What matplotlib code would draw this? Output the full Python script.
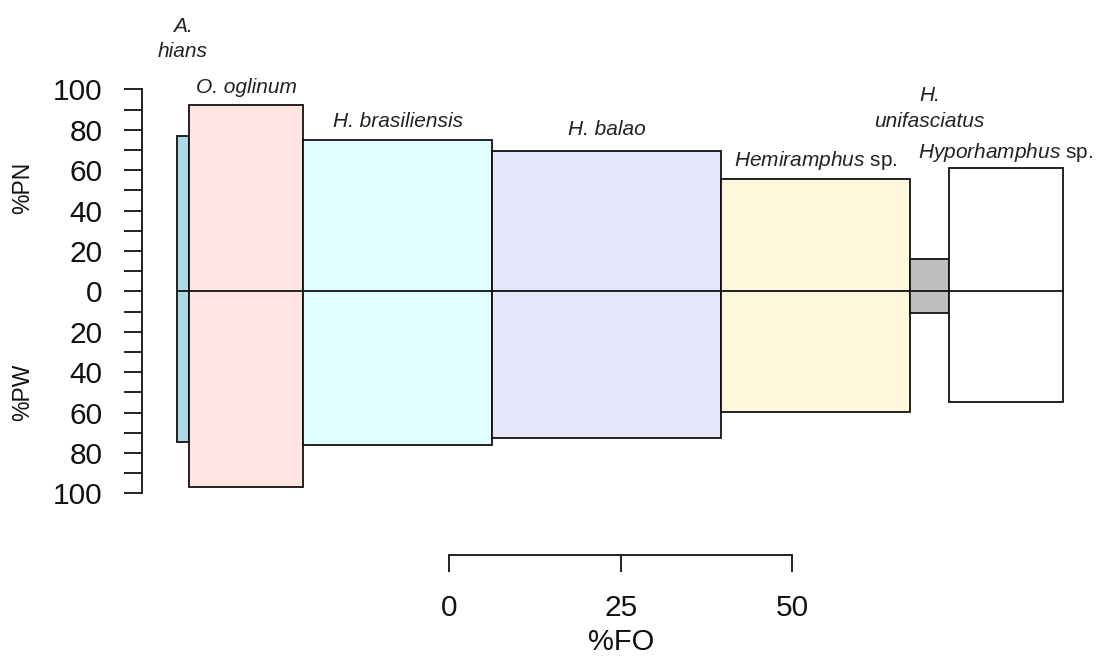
import numpy as np
import matplotlib
matplotlib.use("Agg")
import matplotlib.pyplot as plt

plt.rcParams["font.family"] = ["Liberation Sans", "DejaVu Sans"]
plt.rcParams["mathtext.fontset"] = "custom"
plt.rcParams["mathtext.rm"] = "Liberation Sans"
plt.rcParams["mathtext.it"] = "Liberation Sans:italic"

# Diet composition of the prey items (costello-style bars)
species = ["A. hians", "O. oglinum", "H. brasiliensis", "H. balao",
           "Hemiramphus sp.", "H. unifasciatus", "Hyporhamphus sp."]
fo = [1.84, 16.6, 27.6, 33.4, 27.6, 5.66, 16.6]      # %FO (bar width)
pn = [77.1, 92.4, 75.1, 69.5, 55.6, 16.2, 61.0]      # %PN (upwards)
pw = [74.6, 96.7, 76.1, 72.8, 59.9, 10.7, 55.0]      # %PW (downwards)
colors = ["#ADD8E6", "#FFE4E1", "#E0FFFF", "#E6E6FA", "#FFF8DC", "#BEBEBE", "#FFFFFF"]

# label text per species, one entry per line, and the baselines of those lines
label_lines = [["A.", "hians"], ["O. oglinum"], ["H. brasiliensis"], ["H. balao"],
               [r"$\mathit{Hemiramphus}$ sp."], ["H.", "unifasciatus"],
               [r"$\mathit{Hyporhamphus}$ sp."]]
label_base = [[128.4, 116.0], [98.2], [81.5], [77.4], [62.0], [94.4, 81.5], [65.8]]

y_ticks = [-100, -80, -60, -40, -20, 0, 20, 40, 60, 80, 100]
fo_ticks = [0, 25, 50]
fo_origin = 39.8  # where the %FO scale bar starts along the bar sequence

W, H = 1096, 657
fig = plt.figure(figsize=(W / 100, H / 100), dpi=100)

ax_left = 141.7 / W
ax_w = (1090 - 141.7) / W
ax = fig.add_axes([ax_left, (H - 493.3) / H, ax_w, (493.3 - 89.3) / H])
ax.set_xlim(-5.11, 133.27)
ax.set_ylim(-100, 100)

fo_arr = np.array(fo)
lefts = np.concatenate([[0], np.cumsum(fo_arr)[:-1]])
pn_arr = np.array(pn)
pw_arr = np.array(pw)

ax.bar(lefts, pn_arr + pw_arr, width=fo_arr, bottom=-pw_arr, align="edge",
       color=colors, edgecolor="#111111", linewidth=1.3, zorder=2)
ax.plot([lefts[0], lefts[-1] + fo_arr[-1]], [0, 0], color="#111111", lw=1.3, zorder=3)

for i in range(len(species)):
    cx = lefts[i] + fo_arr[i] / 2
    for line, yb in zip(label_lines[i], label_base[i]):
        style = "normal" if "$" in line else "italic"
        ax.text(cx, yb, line, ha="center", va="baseline", fontsize=15,
                fontstyle=style, color="#222222", clip_on=False)

for s in ["top", "right", "bottom"]:
    ax.spines[s].set_visible(False)
ax.spines["left"].set_bounds(-100, 100)
ax.spines["left"].set_linewidth(1.3)
ax.spines["left"].set_color("#111111")
ax.set_xticks([])
ax.set_yticks(y_ticks)
ax.set_yticklabels([str(abs(t)) for t in y_ticks])
ax.set_yticks(np.arange(-90, 100, 20), minor=True)
ax.tick_params(axis="y", which="both", length=12.7, width=1.3, color="#111111",
               pad=15.5, labelsize=21.5, labelcolor="#111111")

# %FO scale bar below the plot
ax2 = fig.add_axes([ax_left, (H - 555) / H, ax_w, 0.01])
ax2.set_xlim(-5.11 - fo_origin, 133.27 - fo_origin)
ax2.patch.set_visible(False)
for s in ["top", "right", "left"]:
    ax2.spines[s].set_visible(False)
ax2.spines["bottom"].set_bounds(fo_ticks[0], fo_ticks[-1])
ax2.spines["bottom"].set_linewidth(1.3)
ax2.spines["bottom"].set_color("#111111")
ax2.spines["bottom"].set_position(("axes", 0))
ax2.set_yticks([])
ax2.set_xticks(fo_ticks)
ax2.set_xticklabels([str(t) for t in fo_ticks])
ax2.tick_params(axis="x", length=12.3, width=1.3, color="#111111", pad=15.5,
                labelsize=21.5, labelcolor="#111111")

fig.text(621 / W, 1 / H, "%FO", ha="center", va="bottom", fontsize=21, color="#111111")
fig.text(23 / W, (H - 188) / H, "%PN", ha="center", va="center", rotation=90,
         fontsize=16.5, color="#111111")
fig.text(23 / W, (H - 392) / H, "%PW", ha="center", va="center", rotation=90,
         fontsize=16.5, color="#111111")

fig.savefig("out.png", dpi=100)
